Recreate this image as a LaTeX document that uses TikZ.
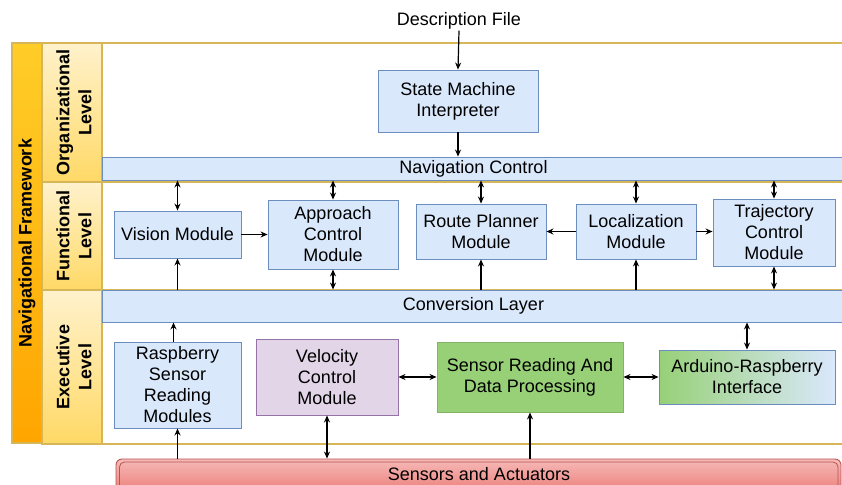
\documentclass[tikz,border=0pt]{standalone}
\usepackage{fontspec}
\setmainfont{Liberation Sans}
\usetikzlibrary{arrows.meta}
\definecolor{bluefill}{HTML}{DAE8FC}
\definecolor{blueline}{HTML}{6C8EBF}
\definecolor{yline}{HTML}{D6B656}
\definecolor{ytop}{HTML}{FFF2CC}
\definecolor{ybot}{HTML}{FFD966}
\definecolor{otop}{HTML}{FFCD28}
\definecolor{obot}{HTML}{FFA500}
\definecolor{purfill}{HTML}{E1D5E7}
\definecolor{purline}{HTML}{9673A6}
\definecolor{grfill}{HTML}{97D077}
\definecolor{grline}{HTML}{82B366}
\definecolor{rtop}{HTML}{F8CECC}
\definecolor{rbot}{HTML}{EA6B66}
\definecolor{rline}{HTML}{B85450}
\begin{document}
\begin{tikzpicture}[x=1pt,y=-1pt,
  every node/.style={font=\fontsize{18}{21}\selectfont, align=center, inner sep=1pt},
  bluebox/.style={draw=blueline, fill=bluefill, line width=0.9pt},
  purbox/.style={draw=purline, fill=purfill, line width=0.9pt},
  grbox/.style={draw=grline, fill=grfill, line width=0.9pt},
  arbox/.style={draw=blueline, left color=grfill, right color=bluefill, line width=0.9pt},
  lane/.style={draw=yline, line width=1.2pt, fill=white},
  lvl/.style={draw=yline, line width=1.2pt, top color=ytop, bottom color=ybot},
  lvltext/.style={rotate=90, font=\fontsize{18}{22}\selectfont\bfseries},
  arr/.style={-{Stealth[length=7pt,width=6pt]}, line width=1.2pt},
  dbl/.style={{Stealth[length=7pt,width=6pt]}-{Stealth[length=7pt,width=6pt]}, line width=1.2pt}
]
\useasboundingbox (0,0) rectangle (842,484);
\clip (0,0) rectangle (842,484);
\fill[white] (0,0) rectangle (842,484);

% framework column
\shade[top color=otop, bottom color=obot] (12,43) rectangle (42,443);
\draw[yline, line width=1.2pt] (12,43) rectangle (42,443);
\node[lvltext] (fw) at (27,243) {Navigational Framework};

% lanes
\draw[lane] (102,43) rectangle (860,182);
\draw[lane] (102,182) rectangle (860,290);
\draw[lane] (102,290) rectangle (860,444);
\draw[lvl] (42,43) rectangle (102,182);
\draw[lvl] (42,182) rectangle (102,290);
\draw[lvl] (42,290) rectangle (102,444);
\node[lvltext] (org) at (74,112.5) {Organizational\\Level};
\node[lvltext] (fun) at (74,236) {Functional\\Level};
\node[lvltext] (exe) at (74,367) {Executive\\Level};

% organizational
\node (desc) at (459,21) {Description File};
\node[bluebox, minimum width=160pt, minimum height=62pt] (smi) at (458,101) {State Machine\\Interpreter};
\node[bluebox, minimum width=743pt, minimum height=23pt] (nav) at (473.5,168.5) {Navigation Control};

% functional
\node[bluebox, minimum width=127pt, minimum height=47pt] (vis) at (177.5,234.5) {Vision Module};
\node[bluebox, minimum width=130pt, minimum height=69pt] (app) at (333,234.5) {Approach\\Control\\Module};
\node[bluebox, minimum width=130pt, minimum height=55pt] (rpm) at (481,231.5) {Route Planner\\Module};
\node[bluebox, minimum width=120pt, minimum height=55pt] (loc) at (636,231.5) {Localization\\Module};
\node[bluebox, minimum width=122pt, minimum height=67pt] (tcm) at (774,232.5) {Trajectory\\Control\\Module};

% executive
\node[bluebox, minimum width=743pt, minimum height=32pt] (conv) at (473.5,306) {Conversion Layer};
\node[bluebox, minimum width=127pt, minimum height=86pt] (rsr) at (177.5,385) {Raspberry\\Sensor\\Reading\\Modules};
\node[purbox, minimum width=142pt, minimum height=76pt] (vcm) at (327,377) {Velocity\\Control\\Module};
\node[grbox, minimum width=186pt, minimum height=70pt] (srdp) at (530,377) {Sensor Reading And\\Data Processing};
\node[arbox, minimum width=176pt, minimum height=54pt] (ari) at (747,377) {Arduino-Raspberry\\Interface};

% sensors and actuators
\node[draw=rline, line width=0.9pt, rounded corners=6pt, top color=rtop!80!rbot, bottom color=rbot,
      minimum width=725pt, minimum height=44pt] (sa) at (478.5,481) {};
\draw[rline, line width=0.8pt, rounded corners=5pt] (119.5,462) rectangle (838,510);
\node (satext) at (479,474) {Sensors and Actuators};

% connectors
\draw[arr] (desc.south) -- (smi.north);
\draw[arr] (smi.south) -- (smi.south |- nav.north);
\draw[dbl] (vis.north |- nav.south) -- (vis.north);
\draw[dbl] (app.north |- nav.south) -- (app.north);
\draw[dbl] (rpm.north |- nav.south) -- (rpm.north);
\draw[dbl] (loc.north |- nav.south) -- (loc.north);
\draw[dbl] (tcm.north |- nav.south) -- (tcm.north);
\draw[arr] (vis.south |- conv.north) -- (vis.south);
\draw[dbl] (app.south |- conv.north) -- (app.south);
\draw[arr] (rpm.south |- conv.north) -- (rpm.south);
\draw[arr] (loc.south |- conv.north) -- (loc.south);
\draw[dbl] (tcm.south |- conv.north) -- (tcm.south);
\draw[arr] (vis.east) -- (vis.east -| app.west);
\draw[arr] (loc.west) -- (loc.west -| rpm.east);
\draw[arr] (loc.east) -- (loc.east -| tcm.west);

\draw[arr] ([xshift=-4pt]rsr.north) -- ([xshift=-4pt]rsr.north |- conv.south);
\draw[dbl] (ari.north) -- (ari.north |- conv.south);
\draw[dbl] (vcm.east) -- (srdp.west);
\draw[dbl] (srdp.east) -- (ari.west);
\draw[arr] (rsr.south |- sa.north) -- (rsr.south);
\draw[dbl] (vcm.south) -- (vcm.south |- sa.north);
\draw[arr] (srdp.south |- sa.north) -- (srdp.south);
\end{tikzpicture}
\end{document}
